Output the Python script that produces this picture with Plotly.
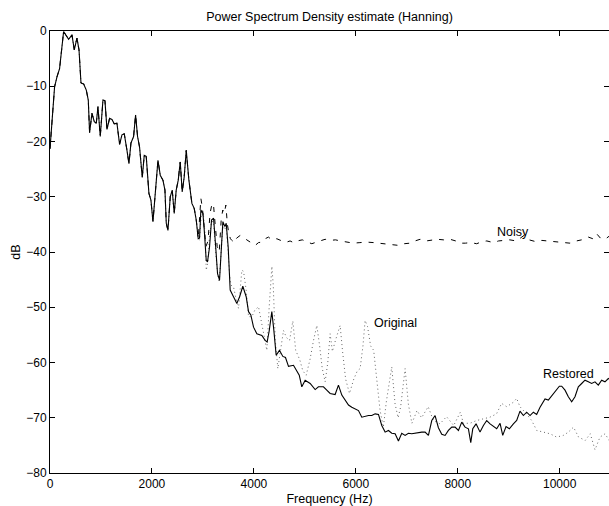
import plotly.graph_objects as go

# Shared low-frequency part (all three spectra coincide there)
freq_low = [0, 90, 137, 188, 267, 320, 365, 431, 476, 529, 569, 608, 660, 712, 751, 777, 823, 869, 908, 941,
            986, 1039, 1078, 1118, 1169, 1215, 1261, 1313, 1365, 1412, 1457, 1510, 1549, 1588, 1640, 1679, 1718,
            1757, 1810, 1849, 1888, 1941, 1980, 2020, 2071, 2118, 2163, 2216, 2255, 2281, 2314, 2359, 2398, 2437,
            2476, 2516, 2555, 2594, 2633, 2673, 2725, 2784, 2829, 2869, 2908]
db_low = [-21.3, -10.1, -8.3, -6.8, -0.1, -0.9, -1.5, -0.7, -3.4, -1.3, -3.4, -9.4, -9.6, -10.7, -12.5, -18.4,
          -14.9, -16.4, -16.7, -13.7, -19.1, -12.5, -12.6, -17.8, -15.8, -16.0, -16.8, -16.7, -20.5, -18.8, -18.6,
          -21.6, -24.0, -20.3, -19.1, -15.2, -19.1, -21.0, -26.5, -22.5, -22.7, -29.4, -30.6, -34.5, -28.2, -23.4,
          -26.1, -27.0, -28.8, -34.8, -36.1, -30.0, -28.8, -33.0, -28.8, -27.0, -23.7, -29.1, -26.4, -21.6, -27.0,
          -31.2, -32.1, -34.2, -37.6]

# Restored (solid)
freq_restored = [2934, 2960, 3000, 3026, 3065, 3090, 3130, 3169, 3209, 3250, 3287, 3326, 3365, 3392, 3431, 3457,
                 3496, 3522, 3535, 3600, 3666, 3720, 3783, 3849, 3895, 3940, 3993, 4058, 4156, 4221, 4260, 4300,
                 4352, 4390, 4437, 4502, 4568, 4620, 4679, 4777, 4842, 4890, 4940, 5006, 5104, 5202, 5267, 5365,
                 5430, 5496, 5594, 5659, 5725, 5790, 5856, 5921, 5986, 6052, 6117, 6182, 6248, 6313, 6379, 6444,
                 6509, 6575, 6640, 6705, 6771, 6836, 6901, 6967, 7032, 7097, 7163, 7228, 7294, 7359, 7424, 7490,
                 7555, 7620, 7686, 7751, 7816, 7882, 7947, 8013, 8078, 8143, 8209, 8255, 8294, 8359, 8437, 8503,
                 8568, 8634, 8699, 8764, 8830, 8882, 8947, 9012, 9091, 9156, 9221, 9287, 9352, 9418, 9483, 9548,
                 9614, 9712, 9777, 9842, 9908, 9993, 10039, 10104, 10169, 10235, 10300, 10365, 10431, 10496, 10561,
                 10627, 10692, 10757, 10823, 10888, 10954, 10990]
db_restored = [-37.5, -32.4, -33.0, -36.0, -41.5, -41.8, -39.1, -34.2, -33.9, -39.0, -43.9, -45.1, -39.1, -34.5,
               -35.4, -34.8, -39.1, -46.3, -46.9, -48.1, -49.3, -48.1, -46.2, -48.1, -50.8, -51.4, -53.6, -54.8,
               -55.1, -56.0, -56.3, -54.3, -50.8, -54.0, -58.7, -57.8, -58.9, -59.1, -60.7, -60.5, -61.7, -62.3,
               -64.4, -63.2, -63.8, -64.9, -64.4, -64.4, -65.0, -65.6, -65.8, -64.1, -65.9, -66.8, -67.7, -68.1,
               -68.4, -68.7, -69.9, -69.7, -69.6, -69.6, -69.3, -69.4, -71.4, -72.6, -72.3, -72.8, -72.9, -74.2,
               -72.8, -73.2, -72.8, -72.9, -72.8, -72.6, -72.6, -72.6, -73.2, -70.5, -69.6, -71.8, -73.0, -73.2,
               -72.3, -71.7, -71.7, -72.3, -70.8, -71.7, -72.0, -74.5, -72.0, -71.1, -72.6, -71.4, -70.5, -71.1,
               -71.6, -72.0, -71.0, -73.2, -71.6, -72.0, -71.1, -70.5, -68.8, -69.6, -69.0, -69.6, -69.0, -69.4,
               -68.1, -66.6, -66.8, -66.0, -65.3, -64.3, -64.3, -65.0, -66.2, -67.1, -66.2, -64.4, -63.8, -63.2,
               -63.5, -63.8, -63.5, -64.1, -63.2, -63.5, -62.9, -63.1]

# Original (dotted)
freq_original = [2934, 2973, 3012, 3045, 3065, 3095, 3130, 3170, 3210, 3250, 3290, 3320, 3360, 3392, 3431, 3457,
                 3496, 3522, 3550, 3600, 3650, 3699, 3764, 3797, 3850, 3895, 3960, 4020, 4091, 4150, 4200, 4254,
                 4300, 4335, 4353, 4380, 4420, 4470, 4530, 4581, 4640, 4700, 4764, 4820, 4900, 4960, 5026, 5100,
                 5170, 5235, 5290, 5340, 5398, 5450, 5496, 5540, 5600, 5692, 5740, 5800, 5875, 5960, 6030, 6084,
                 6140, 6182, 6230, 6290, 6350, 6400, 6476, 6540, 6600, 6705, 6770, 6830, 6880, 6967, 7030, 7100,
                 7200, 7290, 7420, 7520, 7650, 7780, 7920, 8050, 8110, 8240, 8370, 8500, 8630, 8760, 8860, 8960,
                 9090, 9156, 9220, 9350, 9450, 9550, 9680, 9810, 9940, 10070, 10170, 10270, 10370, 10500, 10600,
                 10692, 10790, 10890, 10990]
db_original = [-37.8, -32.5, -33.5, -37.0, -43.3, -42.0, -37.0, -34.5, -34.5, -40.0, -44.0, -45.5, -40.0, -35.0,
               -36.0, -35.5, -40.0, -44.0, -46.0, -46.3, -48.5, -50.2, -43.3, -43.5, -47.0, -51.7, -51.7, -50.5,
               -49.9, -53.0, -55.5, -57.8, -50.0, -44.0, -42.6, -46.0, -56.0, -61.1, -57.0, -54.2, -55.5, -56.0,
               -52.5, -57.8, -59.5, -61.5, -62.3, -59.5, -56.0, -53.3, -57.0, -61.0, -63.5, -60.0, -54.8, -58.0,
               -56.0, -53.3, -58.0, -63.0, -65.6, -63.0, -61.5, -61.1, -57.0, -52.4, -53.5, -57.0, -57.8, -62.0,
               -68.7, -71.7, -67.0, -60.8, -67.5, -70.0, -68.0, -61.1, -67.5, -71.0, -68.7, -70.0, -68.0, -70.5,
               -71.1, -69.8, -71.4, -69.0, -71.0, -71.0, -70.5, -70.2, -69.9, -69.3, -67.4, -68.0, -67.2, -66.5,
               -68.0, -69.3, -70.5, -72.3, -72.6, -72.9, -73.5, -73.2, -72.6, -71.7, -73.5, -74.1, -72.9, -75.8,
               -73.5, -72.9, -74.4]

# Noisy (dashed)
freq_noisy = [2934, 2960, 2990, 3026, 3060, 3100, 3140, 3180, 3208, 3240, 3280, 3320, 3360, 3390, 3420, 3450,
              3480, 3510, 3540, 3568, 3620, 3660, 3731, 3800, 3860, 3960, 4026, 4090, 4156, 4220, 4287, 4350,
              4450, 4550, 4646, 4710, 4777, 4850, 4950, 5050, 5137, 5230, 5320, 5398, 5500, 5600, 5700, 5823,
              5950, 6080, 6200, 6350, 6480, 6607, 6720, 6836, 6950, 7065, 7160, 7261, 7380, 7500, 7600, 7720,
              7849, 7960, 8045, 8150, 8250, 8372, 8480, 8570, 8700, 8800, 8900, 9020, 9150, 9230, 9300, 9400,
              9520, 9650, 9770, 9900, 10050, 10202, 10330, 10430, 10562, 10650, 10725, 10800, 10889, 10990]
db_noisy = [-33.0, -30.3, -32.0, -35.0, -39.0, -38.0, -33.0, -31.2, -31.5, -35.0, -39.0, -40.0, -34.0, -32.4,
            -33.0, -31.5, -35.0, -36.7, -37.6, -37.9, -38.3, -37.5, -37.0, -37.3, -37.8, -38.4, -38.8, -38.3,
            -38.2, -37.6, -37.3, -37.8, -37.6, -38.0, -38.2, -38.0, -38.3, -38.0, -37.8, -38.2, -38.5, -38.2,
            -37.9, -37.7, -37.9, -37.8, -38.0, -38.2, -38.4, -38.3, -38.2, -38.3, -38.4, -38.5, -38.6, -38.8,
            -38.5, -38.4, -38.0, -37.7, -38.0, -37.8, -37.7, -37.8, -37.7, -38.0, -38.4, -38.4, -38.3, -38.5,
            -38.1, -38.0, -38.3, -38.0, -37.9, -37.8, -38.0, -37.5, -37.0, -37.8, -38.1, -37.9, -38.0, -38.1,
            -38.2, -38.4, -38.0, -37.8, -37.3, -37.6, -36.7, -37.5, -37.7, -37.0]

x_ticks = [0, 2000, 4000, 6000, 8000, 10000]
x_tick_text = ["0", "2000", "4000", "6000", "8000", "10000"]
y_ticks = [-80, -70, -60, -50, -40, -30, -20, -10, 0]
y_tick_text = ["\u221280", "\u221270", "\u221260", "\u221250", "\u221240", "\u221230", "\u221220", "\u221210", "0"]

labels = ["Noisy", "Original", "Restored"]
label_freq = [8730, 6320, 9630]
label_db = [-36.4, -52.8, -62.0]

FONT = "Liberation Sans, Arial, Helvetica, sans-serif"

fig = go.Figure()
fig.add_trace(go.Scatter(x=freq_low + freq_noisy, y=db_low + db_noisy, mode="lines",
                         line=dict(color="black", width=1, dash="5px,7px"), name="Noisy"))
fig.add_trace(go.Scatter(x=freq_low + freq_original, y=db_low + db_original, mode="lines",
                         line=dict(color="#666666", width=1, dash="1px,3px"), name="Original"))
fig.add_trace(go.Scatter(x=freq_low + freq_restored, y=db_low + db_restored, mode="lines",
                         line=dict(color="black", width=1.1), name="Restored"))
# right-side tick marks only
fig.add_trace(go.Scatter(x=[None], y=[None], yaxis="y2", showlegend=False))

for t, fx, fy in zip(labels, label_freq, label_db):
    fig.add_annotation(x=fx, y=fy, text=t, showarrow=False, xanchor="left", yanchor="middle",
                       font=dict(family=FONT, size=12.5, color="black"))

fig.update_layout(
    width=609, height=506,
    margin=dict(l=50, r=0, t=31, b=33),
    paper_bgcolor="white", plot_bgcolor="white",
    showlegend=False,
    font=dict(family=FONT, size=12, color="black"),
    title=dict(text="Power Spectrum Density estimate (Hanning)", xref="paper", x=0.5, xanchor="center",
               y=1 - 17 / 506, yanchor="middle", font=dict(family=FONT, size=12.5, color="black")),
    xaxis=dict(range=[0, 10967], tickvals=x_ticks, ticktext=x_tick_text, ticks="inside", ticklen=5,
               tickcolor="black", showline=True, linecolor="black", linewidth=1, mirror="ticks",
               showgrid=False, zeroline=False,
               title=dict(text="Frequency (Hz)", standoff=3, font=dict(size=12.5)),
               tickfont=dict(size=12)),
    yaxis=dict(range=[-80, 0], tickvals=y_ticks, ticktext=y_tick_text, ticks="inside", ticklen=5,
               tickcolor="black", showline=True, linecolor="black", linewidth=1, mirror=False,
               showgrid=False, zeroline=False,
               title=dict(text="dB", standoff=2, font=dict(size=12.5)), tickfont=dict(size=12)),
    yaxis2=dict(range=[-80, 0], tickvals=y_ticks, ticks="inside", ticklen=5, tickcolor="black",
                overlaying="y", side="right", showticklabels=False, showline=False, showgrid=False,
                zeroline=False),
)

fig.write_html("out.html")
